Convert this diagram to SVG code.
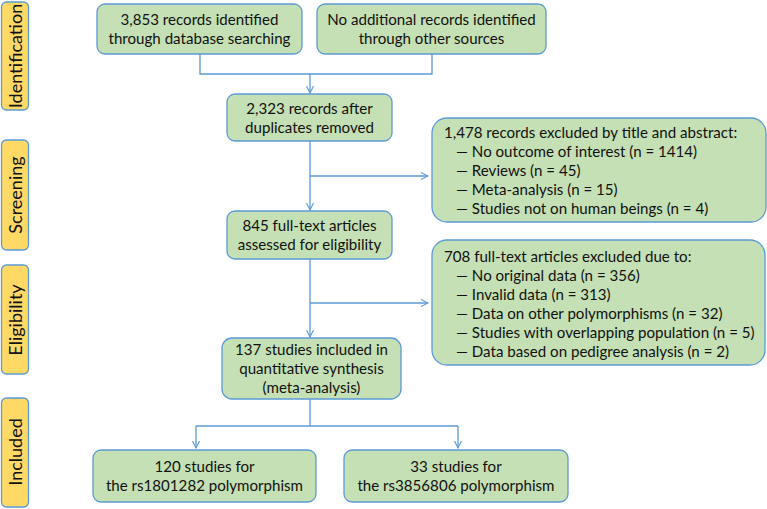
<svg xmlns="http://www.w3.org/2000/svg" width="767" height="509" viewBox="0 0 767 509">
<defs>
<marker id="arr" viewBox="0 0 8 8" refX="7.5" refY="4" markerWidth="8" markerHeight="8" markerUnits="userSpaceOnUse" orient="auto">
<path d="M0.5,0.5 L7.5,4 L0.5,7.5" fill="none" stroke="#5B9BD5" stroke-width="1.1"/>
</marker>
</defs>
<style>
.box{fill:#C5E0B4;stroke:#5B9BD5;stroke-width:1.3}
.side{fill:#FFD966;stroke:#5B9BD5;stroke-width:1.3}
.t{font-family:Lato,"Liberation Sans",sans-serif;font-size:15.1px;fill:#111}
.s{font-family:Lato,"Liberation Sans",sans-serif;font-size:18px;fill:#111;text-anchor:middle}
.c{text-anchor:middle}
.con{fill:none;stroke:#5B9BD5;stroke-width:1.3}
</style>
<rect width="767" height="509" fill="#fff"/>
<g id="side-identification"><rect class="side" x="1.5" y="2" width="27" height="108" rx="5"/><text class="s" transform="translate(21.5,56) rotate(-90)">Identification</text></g>
<g id="side-screening"><rect class="side" x="1.5" y="140" width="27" height="110" rx="5"/><text class="s" transform="translate(21.5,195) rotate(-90)">Screening</text></g>
<g id="side-eligibility"><rect class="side" x="1.5" y="265" width="27" height="109" rx="5"/><text class="s" transform="translate(21.5,320) rotate(-90)">Eligibility</text></g>
<g id="side-included"><rect class="side" x="1.5" y="398" width="27" height="109" rx="5"/><text class="s" transform="translate(21.5,452) rotate(-90)">Included</text></g>

<g id="connectors">
<path class="con" d="M200,54 V74 H432 V54"/>
<path class="con" d="M310,74 V93" marker-end="url(#arr)"/>
<path class="con" d="M310,141 V210" marker-end="url(#arr)"/>
<path class="con" d="M310,176 H428" marker-end="url(#arr)"/>
<path class="con" d="M310,259 V337" marker-end="url(#arr)"/>
<path class="con" d="M310,303 H428" marker-end="url(#arr)"/>
<path class="con" d="M310,399 V426"/>
<path class="con" d="M196,426 H458"/>
<path class="con" d="M196,426 V448" marker-end="url(#arr)"/>
<path class="con" d="M458,426 V448" marker-end="url(#arr)"/>
</g>

<g id="n-database"><rect class="box" x="97" y="4" width="205" height="50" rx="8"/>
<text class="t c" x="199.5" y="25">3,853 records identified</text>
<text class="t c" x="199.5" y="44">through database searching</text></g>
<g id="n-other"><rect class="box" x="317" y="4" width="229" height="50" rx="8"/>
<text class="t c" x="431.5" y="25">No additional records identified</text>
<text class="t c" x="431.5" y="44">through other sources</text></g>
<g id="n-dedup"><rect class="box" x="227" y="94" width="165" height="47" rx="8"/>
<text class="t c" x="309.5" y="114">2,323 records after</text>
<text class="t c" x="309.5" y="133">duplicates removed</text></g>
<g id="n-excl1"><rect class="box" x="432" y="118" width="334" height="104" rx="15"/>
<text class="t" x="444" y="138">1,478 records excluded by title and abstract:</text>
<text class="t" x="456" y="157">— No outcome of interest (n = 1414)</text>
<text class="t" x="456" y="176">— Reviews (n = 45)</text>
<text class="t" x="456" y="195">— Meta-analysis (n = 15)</text>
<text class="t" x="456" y="214">— Studies not on human beings (n = 4)</text></g>
<g id="n-fulltext"><rect class="box" x="227" y="211" width="165" height="48" rx="8"/>
<text class="t c" x="309.5" y="231">845 full-text articles</text>
<text class="t c" x="309.5" y="250">assessed for eligibility</text></g>
<g id="n-excl2"><rect class="box" x="432" y="240" width="333" height="125" rx="15"/>
<text class="t" x="444" y="262">708 full-text articles excluded due to:</text>
<text class="t" x="456" y="281">— No original data (n = 356)</text>
<text class="t" x="456" y="300">— Invalid data (n = 313)</text>
<text class="t" x="456" y="319">— Data on other polymorphisms (n = 32)</text>
<text class="t" x="456" y="338">— Studies with overlapping population (n = 5)</text>
<text class="t" x="456" y="357">— Data based on pedigree analysis (n = 2)</text></g>
<g id="n-included"><rect class="box" x="222" y="338" width="179" height="61" rx="10"/>
<text class="t c" x="311.5" y="355">137 studies included in</text>
<text class="t c" x="311.5" y="374">quantitative synthesis</text>
<text class="t c" x="311.5" y="393">(meta-analysis)</text></g>
<g id="n-rs1801282"><rect class="box" x="93" y="450" width="223" height="52" rx="8"/>
<text class="t c" x="204.5" y="472">120 studies for</text>
<text class="t c" x="204.5" y="491">the rs1801282 polymorphism</text></g>
<g id="n-rs3856806"><rect class="box" x="344" y="450" width="224" height="52" rx="8"/>
<text class="t c" x="456" y="472">33 studies for</text>
<text class="t c" x="456" y="491">the rs3856806 polymorphism</text></g>
</svg>
